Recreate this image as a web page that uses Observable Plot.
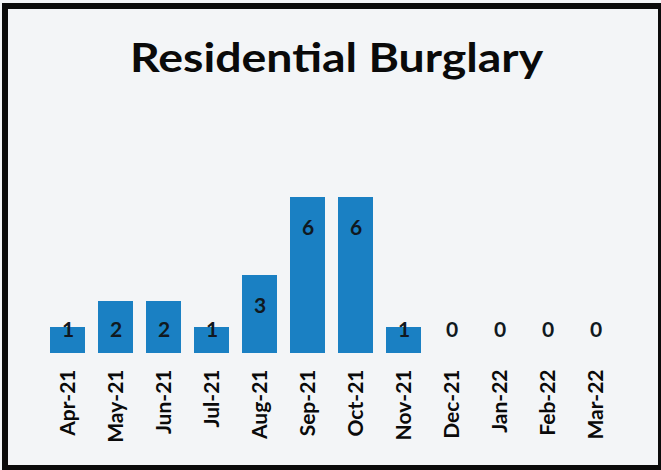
<!DOCTYPE html>
<html>
<head>
<meta charset="utf-8">
<script src="https://cdn.jsdelivr.net/npm/d3@7"></script>
<script src="https://cdn.jsdelivr.net/npm/@observablehq/plot@0.6"></script>
<style>
  html, body { margin: 0; padding: 0; background: #ffffff; }
  #wrap { position: relative; width: 661px; height: 470px; overflow: hidden; background: #f3f5f7; font-family: Lato, "Open Sans", sans-serif; }
  #title { position: absolute; left: 6px; width: 661px; top: 37px; text-align: center; font-weight: 700; font-size: 40px; color: #0a0a0a; line-height: 1; transform: scaleX(1.16); transform-origin: 330px 0; }
  #frame { position: absolute; left: 2px; top: 3px; right: 0px; bottom: 0px; border-left: 6px solid #0b0b0b; border-top: 6px solid #0b0b0b; border-bottom: 5px solid #0b0b0b; border-right: 3px solid #0b0b0b; pointer-events: none; }
  #chart { position: absolute; left: 0; top: 0; }
</style>
</head>
<body>
<div id="wrap">
  <div id="chart"></div>
  <div id="title">Residential Burglary</div>
  <div id="frame"></div>
</div>
<script>
const months = ["Apr-21","May-21","Jun-21","Jul-21","Aug-21","Sep-21","Oct-21","Nov-21","Dec-21","Jan-22","Feb-22","Mar-22"];
const counts = [1, 2, 2, 1, 3, 6, 6, 1, 0, 0, 0, 0];

const data = months.map((m, i) => ({month: m, value: counts[i]}));

const chart = Plot.plot({
  width: 661,
  height: 470,
  marginLeft: 35,
  marginRight: 34,
  marginTop: 197,
  marginBottom: 117,
  style: {background: "transparent", fontFamily: "Lato, 'Open Sans', sans-serif"},
  x: {domain: months, padding: 0.275, label: null},
  y: {domain: [0, 6], axis: null},
  marks: [
    Plot.barY(data, {x: "month", y: "value", fill: "#1a80c3"}),
    Plot.text(data, {
      x: "month",
      y: d => Math.max(d.value - 1.2, 0.9),
      text: d => String(d.value),
      fill: "#101820",
      fontSize: 21,
      fontWeight: 700
    }),
    Plot.axisX({
      tickSize: 0,
      tickPadding: 16,
      tickRotate: -90,
      fontSize: 21,
      fontWeight: 700,
      fill: "#0a0a0a",
      label: null
    })
  ]
});
document.getElementById("chart").appendChild(chart);
</script>
</body>
</html>
